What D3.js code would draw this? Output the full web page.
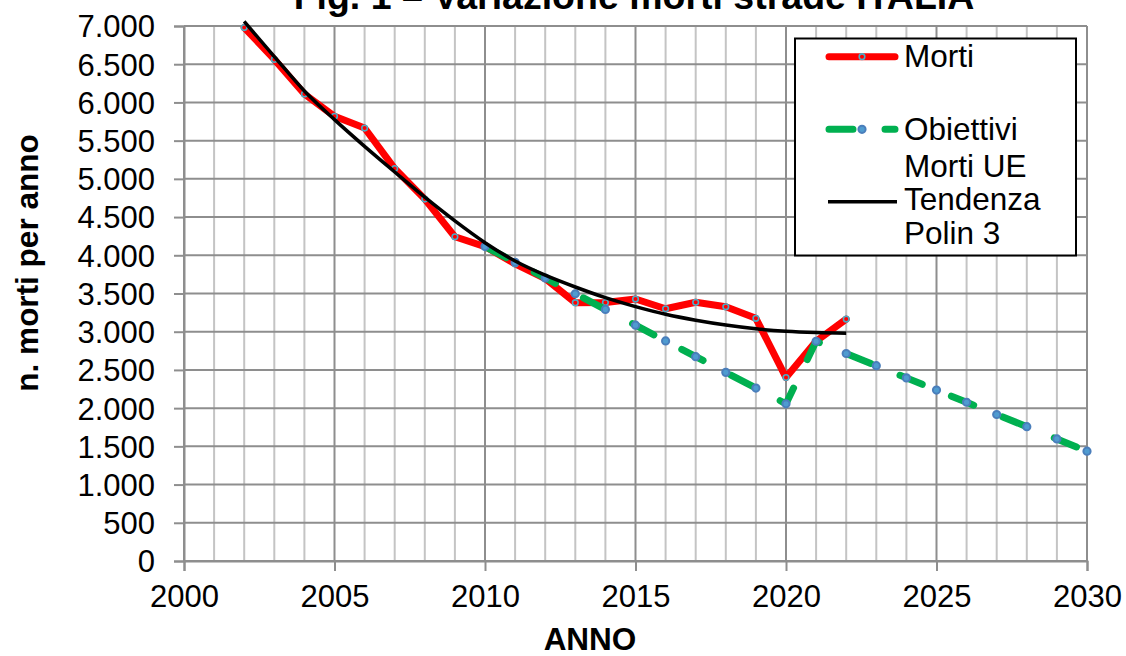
<!DOCTYPE html>
<html><head><meta charset="utf-8">
<script src="https://cdn.jsdelivr.net/npm/d3@7"></script>
<style>
body{margin:0;background:#fff}
svg{display:block}
text{font-family:"Liberation Sans",Arial,sans-serif;fill:#000}
</style>
</head><body>
<svg id="c" width="1126" height="656"></svg>
<script>
// ---- data ----
const years = [2002,2003,2004,2005,2006,2007,2008,2009,2010,2011,2012,2013,2014,2015,2016,2017,2018,2019,2020,2021,2022];
const morti = [6980,6563,6110,5818,5665,5135,4735,4242,4114,3888,3695,3380,3381,3428,3300,3385,3326,3175,2400,2875,3165];
const targetYears = [2010,2011,2012,2013,2014,2015,2016,2017,2018,2019,2020,2021,2022,2023,2024,2025,2026,2027,2028,2029,2030];
const obiettivi = [4114,3908,3703,3497,3291,3085,2880,2674,2468,2263,2057,2875,2715,2556,2396,2236,2077,1917,1757,1597,1437];
const trend = [7060,6600,6150,5775,5425,5090,4760,4450,4165,3925,3740,3585,3445,3328,3228,3150,3087,3038,3006,2989,2981];
const xTicks = [2000,2005,2010,2015,2020,2025,2030];
const yTicks = [0,500,1000,1500,2000,2500,3000,3500,4000,4500,5000,5500,6000,6500,7000];
const legendLabels = [["Morti"],["Obiettivi","Morti UE"],["Tendenza","Polin 3"]];
const titleText = "Fig. 1 – Variazione morti strade ITALIA";

// ---- layout ----
const svg = d3.select("#c");
const x = d3.scaleLinear().domain([2000,2030]).range([184,1087]);
const y = d3.scaleLinear().domain([0,7000]).range([561,26]);
const fmt = d3.formatLocale({decimal:",",thousands:".",grouping:[3],currency:["","€"]}).format(",d");

const grid = svg.append("g");
// minor vertical gridlines
d3.range(2001,2030).filter(v=>v%5!==0).forEach(v=>{
  grid.append("line").attr("x1",x(v)).attr("x2",x(v)).attr("y1",y(7000)).attr("y2",y(0))
    .attr("stroke","#c4c4c4").attr("stroke-width",2);
});
// horizontal gridlines
yTicks.forEach(v=>{
  grid.append("line").attr("x1",x(2000)).attr("x2",x(2030)).attr("y1",y(v)).attr("y2",y(v))
    .attr("stroke","#8e8e8e").attr("stroke-width",2);
});
// major vertical gridlines
xTicks.forEach(v=>{
  grid.append("line").attr("x1",x(v)).attr("x2",x(v)).attr("y1",y(7000)).attr("y2",y(0))
    .attr("stroke","#8e8e8e").attr("stroke-width",2);
});

// axes
const yAxis = svg.append("g").attr("transform",`translate(${x(2000)},0)`)
  .call(d3.axisLeft(y).tickValues(yTicks).tickFormat(fmt).tickSize(10).tickPadding(19));
const xAxis = svg.append("g").attr("transform",`translate(0,${y(0)})`)
  .call(d3.axisBottom(x).tickValues(xTicks).tickFormat(d3.format("d")).tickSize(10).tickPadding(14));
[yAxis,xAxis].forEach(a=>{
  a.select(".domain").attr("stroke","#8e8e8e").attr("stroke-width",2);
  a.selectAll(".tick line").attr("stroke","#8e8e8e").attr("stroke-width",2);
  a.selectAll(".tick text").attr("font-size",31).attr("font-family","'Liberation Sans',Arial,sans-serif").attr("fill","#000");
});
yAxis.selectAll(".tick text").attr("dy","0.35em");
xAxis.selectAll(".tick text").attr("dy","0.71em");

// series
const mortiData = years.map((yr,i)=>({x:yr,y:morti[i]}));
const objData = targetYears.map((yr,i)=>({x:yr,y:obiettivi[i]}));
const trendData = years.map((yr,i)=>({x:yr,y:trend[i]}));
const line = d3.line().x(d=>x(d.x)).y(d=>y(d.y));

svg.append("path").datum(mortiData).attr("d",line).attr("fill","none")
  .attr("stroke","#ff0000").attr("stroke-width",7).attr("stroke-linejoin","round").attr("stroke-linecap","round");
svg.append("g").selectAll("circle").data(mortiData).join("circle")
  .attr("cx",d=>x(d.x)).attr("cy",d=>y(d.y)).attr("r",2.8)
  .attr("fill","#ff0000").attr("stroke","#4bacc6").attr("stroke-width",1.6);

svg.append("path").datum(objData).attr("d",line).attr("fill","none")
  .attr("stroke","#00b050").attr("stroke-width",7).attr("stroke-linecap","round").attr("stroke-linejoin","round")
  .attr("stroke-dasharray","24 31.5");
svg.append("g").selectAll("circle").data(objData).join("circle")
  .attr("cx",d=>x(d.x)).attr("cy",d=>y(d.y)).attr("r",3.6)
  .attr("fill","#4f9bd0").attr("stroke","#4a7ebb").attr("stroke-width",2);

svg.append("path").datum(trendData).attr("d",line.curve(d3.curveMonotoneX)).attr("fill","none")
  .attr("stroke","#000").attr("stroke-width",3.5);

// legend
const lg = svg.append("g");
lg.append("rect").attr("x",795).attr("y",38.5).attr("width",281).attr("height",217)
  .attr("fill","#fff").attr("stroke","#000").attr("stroke-width",2);
lg.append("line").attr("x1",829).attr("x2",895).attr("y1",56.7).attr("y2",56.7)
  .attr("stroke","#ff0000").attr("stroke-width",7).attr("stroke-linecap","round");
lg.append("circle").attr("cx",862).attr("cy",56.7).attr("r",2.8)
  .attr("fill","#ff0000").attr("stroke","#4bacc6").attr("stroke-width",1.6);
lg.append("line").attr("x1",829).attr("x2",895).attr("y1",129.3).attr("y2",129.3)
  .attr("stroke","#00b050").attr("stroke-width",7).attr("stroke-linecap","round").attr("stroke-dasharray","24 32");
lg.append("circle").attr("cx",862).attr("cy",129.3).attr("r",3.6)
  .attr("fill","#4f9bd0").attr("stroke","#4a7ebb").attr("stroke-width",2);
lg.append("line").attr("x1",828).attr("x2",897).attr("y1",201.7).attr("y2",201.7)
  .attr("stroke","#000").attr("stroke-width",3.5);
const legendBaselines = [[67.3],[140,176.7],[210,243.5]];
legendLabels.forEach((lines,i)=>{
  lines.forEach((t,j)=>{
    lg.append("text").attr("x",904).attr("y",legendBaselines[i][j]).attr("font-size",31.5).text(t);
  });
});

// titles
svg.append("text").attr("x",634).attr("y",9).attr("text-anchor","middle")
  .attr("font-size",37.5).attr("font-weight","bold").text(titleText);
svg.append("text").attr("x",590).attr("y",650).attr("text-anchor","middle")
  .attr("font-size",31.5).attr("font-weight","bold").text("ANNO");
svg.append("text").attr("transform","translate(38,263) rotate(-90)").attr("text-anchor","middle")
  .attr("font-size",31.5).attr("font-weight","bold").text("n. morti per anno");
</script>
</body></html>
